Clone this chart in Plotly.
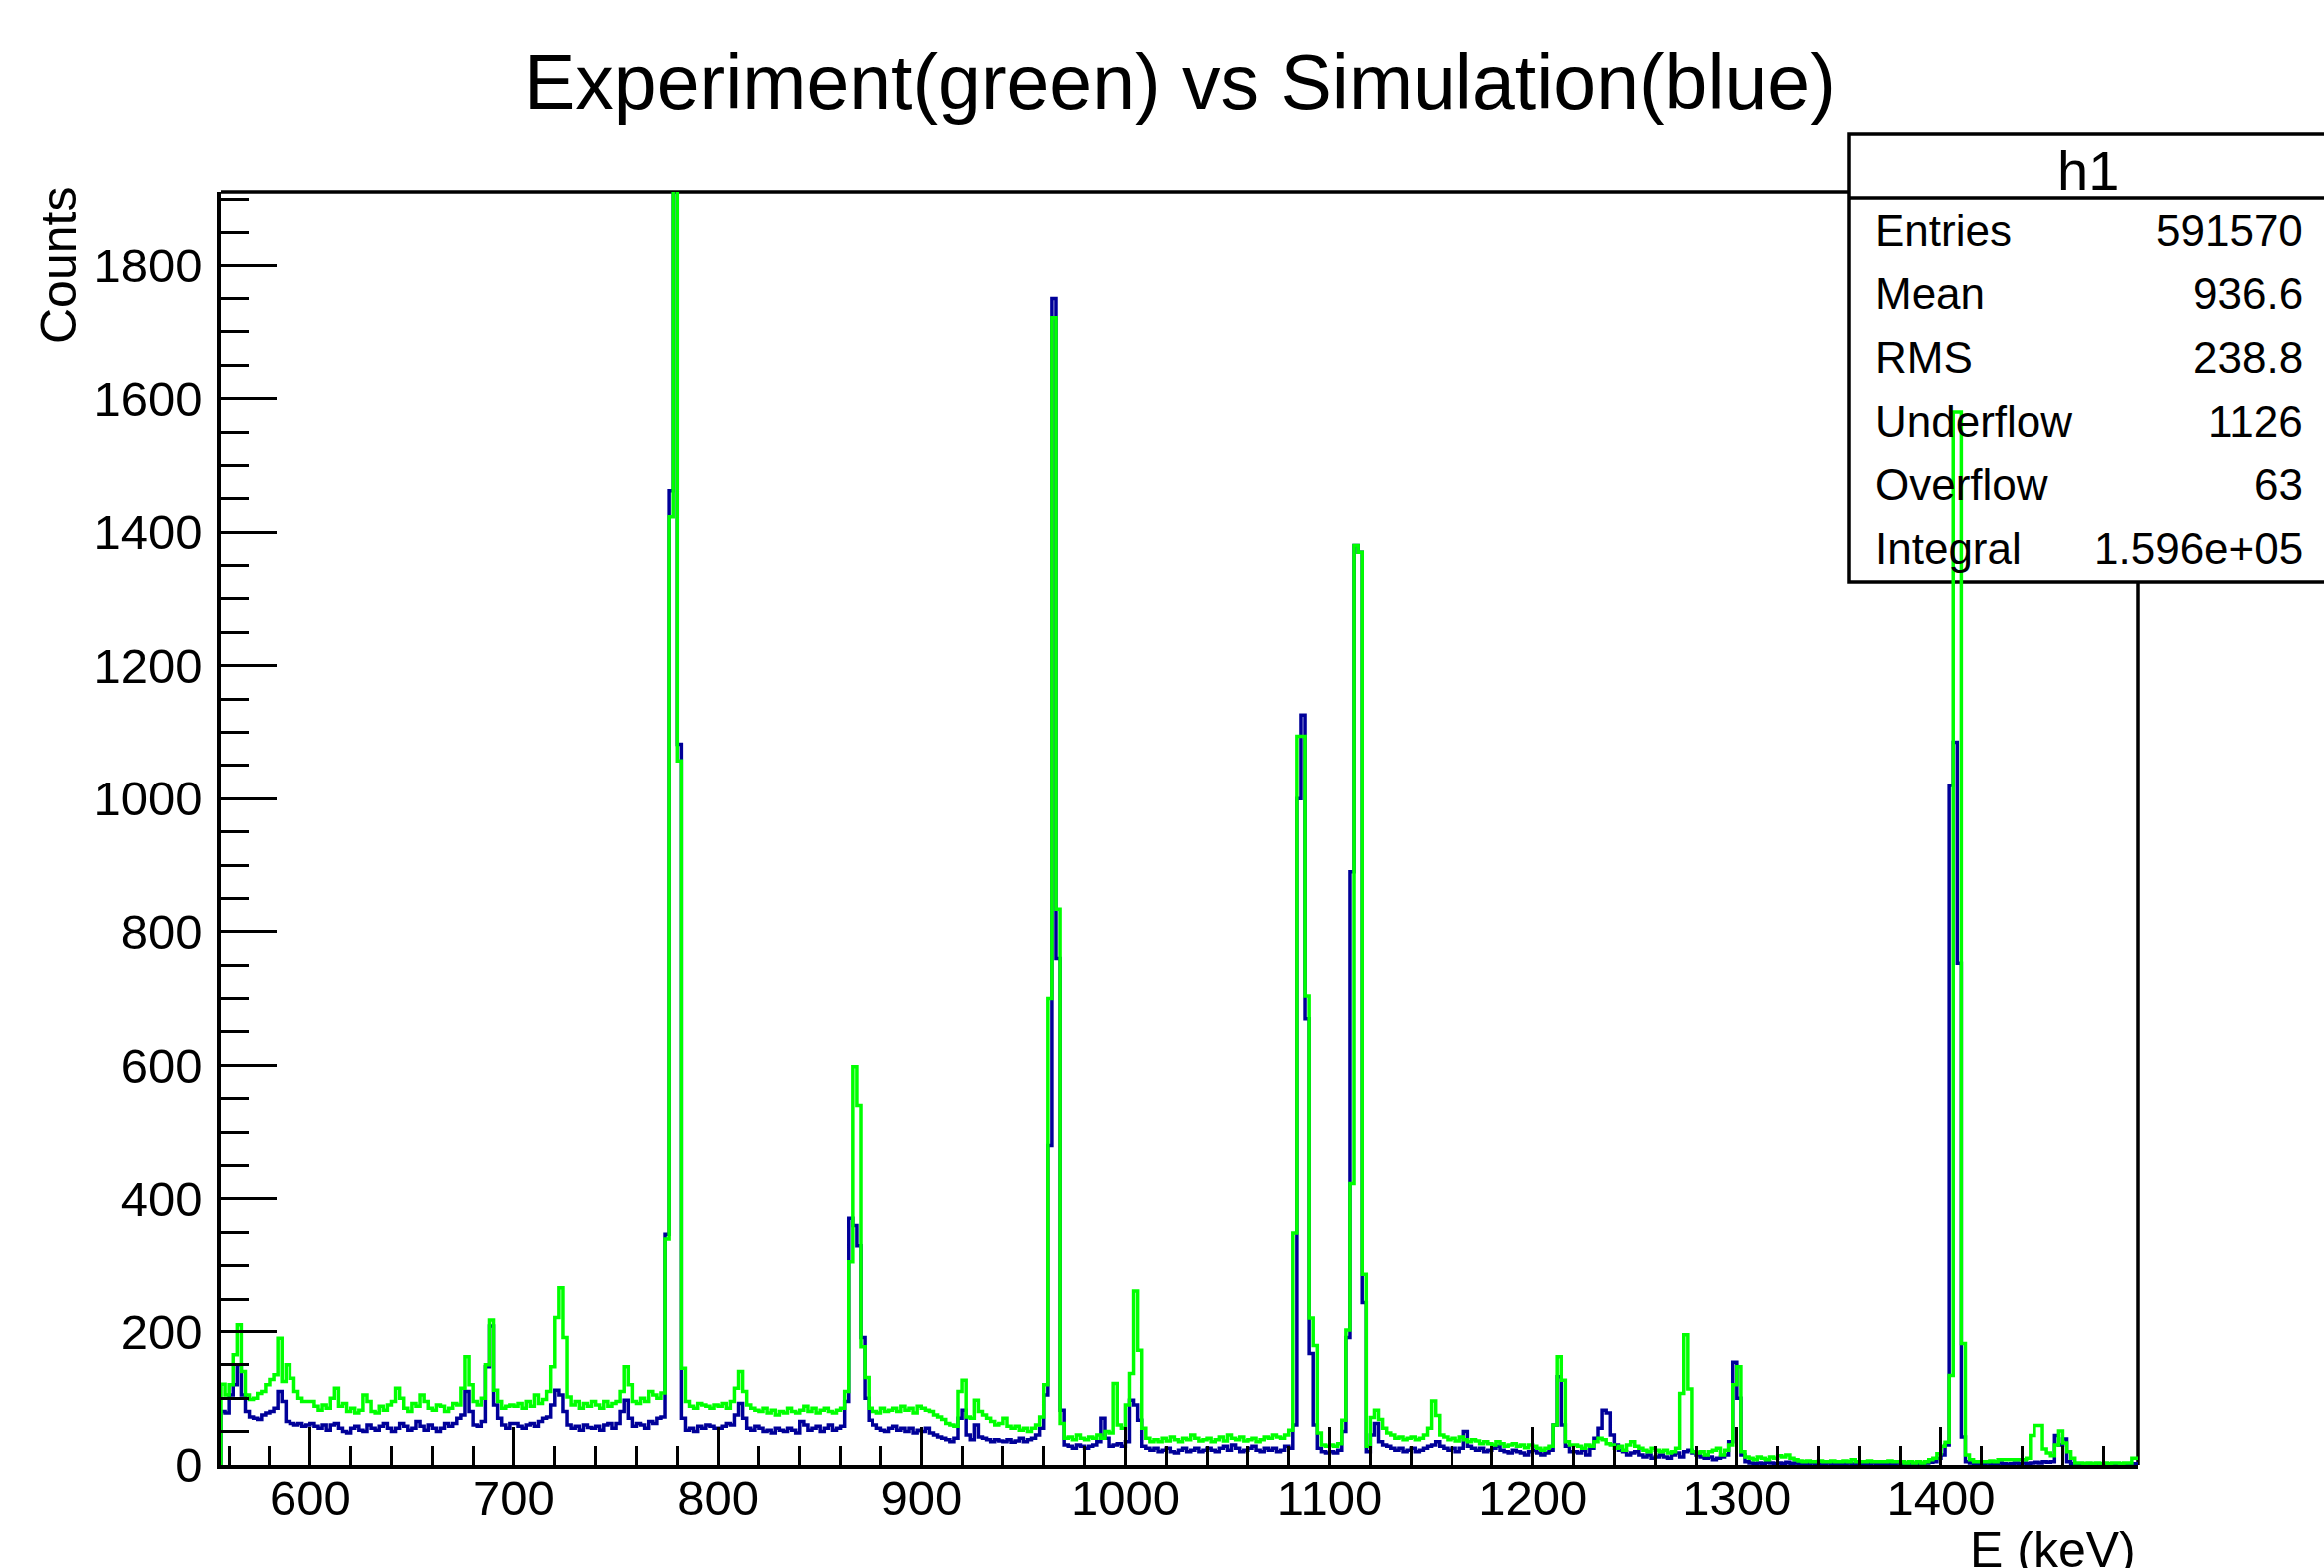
import numpy as np
import plotly.graph_objects as go

# ---------------- axis / binning ----------------
E_MIN = 556.0      # keV, left edge of frame
E_MAX = 1497.0     # keV, right edge of frame
BIN_WIDTH = 2.0    # keV
Y_MAX = 1911.0

x_tick_labels = ["600", "700", "800", "900", "1000", "1100", "1200", "1300", "1400"]
y_tick_labels = ["0", "200", "400", "600", "800", "1000", "1200", "1400", "1600", "1800"]

# ---------------- Experiment (green), counts per 2 keV bin ----------------
exp_556_598 = [121, 105, 120, 165, 210, 140, 105, 98, 100, 107, 110, 120, 128, 135, 190, 125, 150, 130, 110, 100, 95, 95]
exp_600_698 = [95, 88, 82, 90, 85, 100, 115, 88, 92, 80,
               85, 78, 82, 105, 95, 80, 78, 88, 82, 90,
               95, 115, 100, 85, 80, 92, 88, 105, 95, 85,
               82, 90, 88, 80, 85, 92, 90, 115, 162, 120,
               95, 90, 100, 150, 217, 112, 95, 85, 88, 90]
exp_700_798 = [88, 92, 85, 95, 88, 105, 92, 98, 110, 147,
               221, 267, 191, 102, 90, 95, 85, 92, 88, 95,
               90, 85, 95, 88, 92, 95, 110, 147, 120, 95,
               92, 100, 95, 110, 105, 100, 108, 340, 1423, 2100,
               1057, 145, 95, 88, 85, 92, 90, 88, 85, 90]
exp_800_898 = [88, 92, 85, 95, 115, 140, 110, 90, 85, 82,
               80, 85, 78, 82, 75, 80, 78, 85, 80, 78,
               82, 88, 80, 85, 78, 82, 85, 80, 78, 82,
               85, 110, 306, 598, 540, 177, 131, 85, 80, 78,
               85, 80, 82, 85, 80, 88, 82, 85, 78, 88]
exp_900_998 = [85, 82, 80, 75, 72, 68, 62, 60, 58, 110,
               127, 72, 70, 97, 80, 75, 70, 65, 60, 62,
               70, 58, 55, 58, 52, 55, 50, 55, 60, 72,
               120, 700, 1721, 834, 62, 40, 42, 38, 45, 40,
               38, 42, 40, 45, 40, 50, 48, 122, 60, 55]
exp_1000_1098 = [90, 137, 262, 172, 55, 40, 35, 38, 35, 40,
                 36, 42, 38, 35, 40, 38, 45, 40, 36, 38,
                 40, 35, 38, 42, 36, 45, 40, 38, 42, 36,
                 38, 40, 35, 38, 42, 40, 45, 42, 40, 45,
                 52, 349, 1094, 1094, 704, 220, 179, 48, 30, 28]
exp_1100_1198 = [30, 28, 32, 67, 202, 423, 1380, 1370, 287, 28,
                 71, 82, 68, 55, 48, 45, 40, 42, 38, 40,
                 42, 38, 40, 45, 55, 96, 74, 45, 42, 38,
                 40, 36, 42, 38, 35, 38, 36, 32, 35, 32,
                 30, 35, 32, 28, 30, 32, 28, 30, 26, 30]
exp_1200_1298 = [28, 25, 22, 25, 28, 60, 162, 127, 35, 30,
                 30, 28, 25, 30, 28, 35, 40, 38, 32, 30,
                 25, 28, 22, 30, 35, 28, 25, 22, 20, 25,
                 22, 20, 22, 18, 20, 25, 107, 195, 114, 20,
                 18, 20, 15, 20, 22, 25, 15, 22, 30, 120]
exp_1300_1398 = [147, 20, 12, 10, 8, 12, 10, 8, 12, 10,
                 14, 12, 15, 10, 8, 6, 5, 6, 5, 5,
                 6, 5, 5, 6, 5, 5, 6, 5, 8, 5,
                 5, 5, 6, 5, 5, 5, 5, 6, 5, 5,
                 5, 3, 5, 3, 5, 3, 5, 8, 10, 17]
exp_1400_1496 = [28, 34, 134, 1580, 1580, 182, 15, 8, 5, 5,
                 5, 5, 6, 5, 8, 8, 8, 8, 8, 8,
                 8, 10, 44, 59, 59, 24, 18, 14, 30, 51,
                 33, 20, 10, 3, 3, 2, 3, 2, 3, 2,
                 3, 2, 3, 3, 2, 3, 3, 10, 10]

# ---------------- Simulation (blue), counts per 2 keV bin ----------------
sim_556_598 = [80, 78, 105, 120, 150, 105, 80, 72, 70, 68, 75, 78, 80, 85, 110, 95, 65, 62, 60, 62, 58, 60]
sim_600_698 = [62, 58, 55, 60, 52, 60, 62, 55, 50, 48,
               55, 58, 52, 50, 60, 55, 52, 58, 62, 55,
               50, 55, 62, 58, 52, 55, 65, 58, 52, 60,
               55, 50, 55, 62, 58, 62, 70, 75, 110, 80,
               60, 58, 65, 147, 208, 90, 70, 60, 55, 62]
sim_700_798 = [62, 58, 55, 60, 62, 58, 65, 70, 72, 90,
               112, 105, 80, 60, 55, 58, 52, 60, 56, 55,
               58, 52, 60, 62, 55, 62, 80, 97, 70, 58,
               62, 60, 55, 65, 62, 70, 72, 347, 1462, 2100,
               1082, 70, 52, 55, 50, 58, 55, 60, 58, 55]
sim_800_898 = [55, 58, 62, 60, 75, 92, 70, 55, 52, 58,
               55, 50, 52, 48, 55, 52, 50, 55, 52, 48,
               65, 60, 52, 55, 58, 50, 55, 60, 52, 55,
               58, 95, 371, 360, 330, 191, 100, 67, 60, 55,
               52, 50, 55, 58, 52, 55, 50, 55, 48, 52]
sim_900_998 = [50, 55, 48, 45, 42, 40, 38, 35, 40, 70,
               82, 45, 38, 60, 42, 40, 38, 35, 38, 36,
               35, 38, 34, 36, 40, 35, 38, 40, 45, 55,
               105, 480, 1750, 760, 82, 30, 28, 25, 30, 28,
               25, 28, 30, 35, 70, 40, 28, 30, 32, 28]
sim_1000_1098 = [35, 97, 90, 67, 28, 25, 22, 25, 20, 22,
                 25, 20, 18, 22, 25, 20, 22, 25, 20, 22,
                 25, 22, 20, 25, 28, 22, 30, 25, 20, 22,
                 25, 28, 22, 20, 25, 22, 25, 20, 22, 28,
                 25, 60, 1000, 1126, 670, 167, 60, 25, 20, 18]
sim_1100_1198 = [20, 18, 22, 50, 191, 890, 1380, 1370, 245, 20,
                 45, 62, 35, 30, 28, 25, 22, 25, 20, 22,
                 25, 20, 22, 25, 28, 30, 35, 28, 25, 22,
                 25, 20, 25, 50, 28, 25, 22, 25, 20, 22,
                 25, 28, 22, 20, 18, 22, 20, 18, 15, 20]
sim_1200_1298 = [22, 18, 15, 18, 22, 60, 132, 60, 28, 20,
                 20, 18, 22, 15, 25, 40, 55, 82, 78, 45,
                 30, 22, 20, 15, 18, 20, 15, 12, 15, 10,
                 12, 15, 12, 10, 15, 18, 12, 20, 22, 18,
                 15, 12, 10, 12, 8, 10, 12, 15, 35, 154]
sim_1300_1398 = [100, 15, 5, 3, 2, 3, 2, 4, 3, 2,
                 3, 2, 4, 2, 3, 2, 1, 2, 3, 2,
                 1, 2, 3, 2, 1, 2, 2, 3, 1, 2,
                 2, 1, 2, 3, 2, 1, 2, 2, 1, 3,
                 2, 1, 3, 2, 1, 2, 3, 4, 5, 10]
sim_1400_1496 = [15, 30, 1020, 1085, 753, 42, 5, 3, 2, 2,
                 2, 3, 2, 2, 3, 2, 1, 2, 3, 2,
                 3, 2, 3, 4, 3, 5, 4, 5, 44, 30,
                 39, 5, 2, 1, 2, 1, 2, 1, 2, 1,
                 2, 1, 2, 1, 2, 2, 1, 2, 2]

# ---------------- stats box ----------------
stats_title = "h1"
stats_names = ["Entries", "Mean", "RMS", "Underflow", "Overflow", "Integral"]
stats_values = ["591570", "936.6", "238.8", "1126", "63", "1.596e+05"]

experiment = np.array(exp_556_598 + exp_600_698 + exp_700_798 + exp_800_898 + exp_900_998 +
                      exp_1000_1098 + exp_1100_1198 + exp_1200_1298 + exp_1300_1398 + exp_1400_1496, float)
simulation = np.array(sim_556_598 + sim_600_698 + sim_700_798 + sim_800_898 + sim_900_998 +
                      sim_1000_1098 + sim_1100_1198 + sim_1200_1298 + sim_1300_1398 + sim_1400_1496, float)


def step_xy(vals):
    edges = E_MIN + BIN_WIDTH * np.arange(len(vals) + 1)
    x = np.concatenate([[E_MIN], edges])
    y = np.concatenate([[0.0], vals, [vals[-1]]])
    return x, y


FONT = "Liberation Sans, Arial, Helvetica, sans-serif"
BLUE = "#000099"
GREEN = "#00ff00"
LW = 3.5

fig = go.Figure()
xs, ys = step_xy(simulation)
fig.add_trace(go.Scatter(x=xs, y=ys, mode="lines", line=dict(color=BLUE, width=LW, shape="hv"),
                         hoverinfo="skip", name="Simulation"))
xe, ye = step_xy(experiment)
fig.add_trace(go.Scatter(x=xe, y=ye, mode="lines", line=dict(color=GREEN, width=LW, shape="hv"),
                         hoverinfo="skip", name="Experiment"))

W, H = 2328, 1571
L, R, T, B = 221, 2142, 192, 1468


def px(xp):
    return (xp - L) / (R - L)


def py(yp):
    return (B - yp) / (B - T)


fig.update_layout(
    width=W, height=H,
    margin=dict(l=L, r=W - R, t=T, b=H - B, pad=0),
    paper_bgcolor="white", plot_bgcolor="white", showlegend=False,
    font=dict(family=FONT, color="black"),
    xaxis=dict(range=[E_MIN, E_MAX], tickmode="array",
               tickvals=[float(v) for v in x_tick_labels], ticktext=x_tick_labels,
               ticks="inside", ticklen=38, tickwidth=3, tickcolor="black",
               showline=True, linewidth=3.5, linecolor="black", mirror=False,
               showgrid=False, zeroline=False, tickfont=dict(size=49, family=FONT, color="black"),
               ticklabelstandoff=-13,
               minor=dict(dtick=20, tick0=0, ticks="inside", ticklen=19, tickwidth=3,
                          tickcolor="black", showgrid=False)),
    yaxis=dict(range=[0, Y_MAX], tickmode="array",
               tickvals=[float(v) for v in y_tick_labels], ticktext=y_tick_labels,
               ticks="inside", ticklen=56, tickwidth=3, tickcolor="black",
               showline=True, linewidth=3.5, linecolor="black", mirror=False,
               showgrid=False, zeroline=False, tickfont=dict(size=49, family=FONT, color="black"),
               ticklabelstandoff=5,
               minor=dict(dtick=50, tick0=0, ticks="inside", ticklen=28, tickwidth=3,
                          tickcolor="black", showgrid=False)),
)

shapes = [
    # top and right frame lines (drawn under the stats box)
    dict(type="line", xref="paper", yref="paper", x0=0, x1=1, y0=1, y1=1,
         line=dict(color="black", width=3.5), layer="below"),
    dict(type="line", xref="paper", yref="paper", x0=1, x1=1, y0=0, y1=1,
         line=dict(color="black", width=3.5), layer="below"),
    # stats box
    dict(type="rect", xref="paper", yref="paper", x0=px(1852), x1=px(2336), y0=py(583), y1=py(134),
         fillcolor="white", line=dict(color="black", width=3.5), layer="below"),
    dict(type="line", xref="paper", yref="paper", x0=px(1852), x1=px(2336), y0=py(198), y1=py(198),
         line=dict(color="black", width=3.5), layer="below"),
]
fig.update_layout(shapes=shapes)

ann = []
ann.append(dict(text="Experiment(green) vs Simulation(blue)", x=0.5, y=py(82), xref="paper", yref="paper",
                xanchor="center", yanchor="middle", showarrow=False, font=dict(size=77, family=FONT, color="black")))
ann.append(dict(text="Counts", x=px(59), y=py(266), xref="paper", yref="paper", textangle=-90,
                xanchor="center", yanchor="middle", showarrow=False, font=dict(size=50, family=FONT, color="black")))
ann.append(dict(text="E (keV)", x=1.0, y=py(1553), xref="paper", yref="paper",
                xanchor="right", yanchor="middle", showarrow=False, font=dict(size=50, family=FONT, color="black")))
ann.append(dict(text=stats_title, x=px(2092), y=py(170), xref="paper", yref="paper",
                xanchor="center", yanchor="middle", showarrow=False, font=dict(size=56, family=FONT, color="black")))
row_y = [231, 294.7, 358.4, 422, 485.8, 549.5]
for name, val, yy in zip(stats_names, stats_values, row_y):
    ann.append(dict(text=name, x=px(1876), y=py(yy), xref="paper", yref="paper",
                    xanchor="left", yanchor="middle", showarrow=False, font=dict(size=44, family=FONT, color="black")))
    ann.append(dict(text=val, x=px(2309), y=py(yy), xref="paper", yref="paper",
                    xanchor="right", yanchor="middle", showarrow=False, font=dict(size=44, family=FONT, color="black")))
fig.update_layout(annotations=ann)

fig.write_html("out.html", config={"displayModeBar": False})
